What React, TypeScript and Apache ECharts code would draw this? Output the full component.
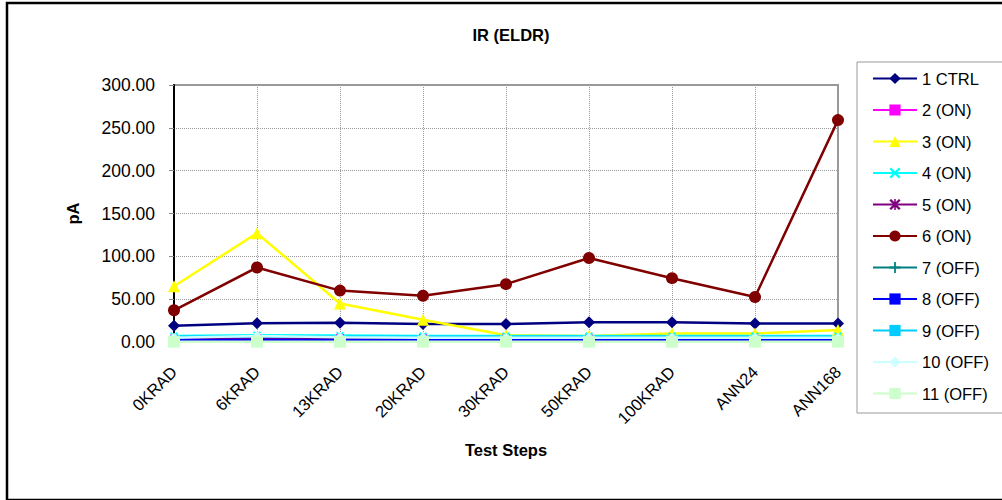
import React, { useEffect, useRef } from "react";
import * as echarts from "echarts";

const categories = ["0KRAD", "6KRAD", "13KRAD", "20KRAD", "30KRAD", "50KRAD", "100KRAD", "ANN24", "ANN168"];
const seriesNames = ["1 CTRL", "2 (ON)", "3 (ON)", "4 (ON)", "5 (ON)", "6 (ON)", "7 (OFF)", "8 (OFF)", "9 (OFF)", "10 (OFF)", "11 (OFF)"];
const s1 = [19, 22, 22.5, 21, 21, 23, 23, 21.5, 21.5];
const s2 = [4, 4.5, 4.5, 4.5, 4, 4, 4, 4, 4.5];
const s3 = [65, 127, 45, 26, 8, 7, 10, 10, 14];
const s4 = [7, 8, 7.5, 7, 7, 7, 7, 7, 7];
const s5 = [3, 3.5, 3.5, 3, 3, 3, 3, 3, 3];
const s6 = [37, 87, 60, 54, 67.5, 98, 74.5, 52.5, 259];
const s7 = [1.2, 1.2, 1.2, 1.2, 1.2, 1.2, 1.2, 1.2, 1.2];
const s8 = [2.2, 2.2, 2.2, 2.2, 2.2, 2.2, 2.2, 2.2, 2.2];
const s9 = [6, 6.5, 6, 6, 6, 6, 6, 6, 6];
const s10 = [5, 7, 5.5, 5, 5, 5, 5, 5, 5];
const s11 = [0.4, 0.4, 0.4, 0.4, 0.4, 0.4, 0.4, 0.4, 0.4];
const yTicks = { min: 0, max: 300, interval: 50 };

const X_PATH = "path://M0,1.5L1.5,0L5,3.5L8.5,0L10,1.5L6.5,5L10,8.5L8.5,10L5,6.5L1.5,10L0,8.5L3.5,5Z";
const STAR_PATH = "path://M0,1.5L1.5,0L5,3.5L8.5,0L10,1.5L6.5,5L10,8.5L8.5,10L5,6.5L1.5,10L0,8.5L3.5,5Z M4.3,0H5.7V10H4.3Z";
const PLUS_PATH = "path://M4.2,0H5.8V4.2H10V5.8H5.8V10H4.2V5.8H0V4.2H4.2Z";
const DASH_PATH = "path://M0,0H8V3H0Z";

const styles = [
  { color: "#000080", symbol: "diamond", size: 12 },
  { color: "#FF00FF", symbol: "rect", size: 8 },
  { color: "#FFFF00", symbol: "triangle", size: 12 },
  { color: "#00FFFF", symbol: X_PATH, size: 8 },
  { color: "#800080", symbol: STAR_PATH, size: 8 },
  { color: "#800000", symbol: "circle", size: 12 },
  { color: "#008080", symbol: PLUS_PATH, size: 9 },
  { color: "#0000FF", symbol: DASH_PATH, size: 8 },
  { color: "#00CCFF", symbol: DASH_PATH, size: 8 },
  { color: "#CCFFFF", symbol: "diamond", size: 10 },
  { color: "#CCFFCC", symbol: "rect", size: 12 },
];

const FONT = "'Liberation Sans', Arial, sans-serif";

export default function App() {
  const ref = useRef<HTMLDivElement>(null);
  useEffect(() => {
    document.body.style.margin = "0";
    const chart = echarts.init(ref.current!, null, { renderer: "svg" });
    const data = [s1, s2, s3, s4, s5, s6, s7, s8, s9, s10, s11];
    chart.setOption({
      animation: false,
      backgroundColor: "#fff",
      textStyle: { fontFamily: FONT },
      title: {
        text: "IR (ELDR)",
        left: 506,
        top: 21,
        textAlign: "center",
        textStyle: { fontFamily: FONT, fontSize: 16.5, fontWeight: "bold", color: "#000" },
      },
      grid: {
        left: 174,
        right: 164,
        top: 85,
        bottom: 158,
        show: true,
        borderColor: "#999",
        borderWidth: 2,
        containLabel: false,
      },
      legend: {
        orient: "vertical",
        left: 872,
        top: 70,
        padding: 0,
        itemWidth: 44,
        itemHeight: 14,
        itemGap: 14.5,
        symbolKeepAspect: true,
        textStyle: { fontFamily: FONT, fontSize: 16.5, color: "#000" },
        data: seriesNames,
      },
      xAxis: {
        type: "category",
        data: categories,
        boundaryGap: false,
        name: "Test Steps",
        nameLocation: "middle",
        nameGap: 99,
        nameTextStyle: { fontFamily: FONT, fontSize: 16.5, fontWeight: "bold", color: "#000" },
        axisLine: { lineStyle: { color: "#888", width: 1.5 } },
        axisTick: { show: false },
        axisLabel: { rotate: 45, margin: 27, fontFamily: FONT, fontSize: 16.5, color: "#000" },
        splitLine: { show: true, lineStyle: { color: "#999", type: "dotted", width: 1 } },
      },
      yAxis: {
        type: "value",
        min: yTicks.min,
        max: yTicks.max,
        interval: yTicks.interval,
        name: "pA",
        nameLocation: "middle",
        nameGap: 93,
        nameTextStyle: { fontFamily: FONT, fontSize: 16.5, fontWeight: "bold", color: "#000" },
        axisLine: { show: true, lineStyle: { color: "#000", width: 2 } },
        axisTick: { show: true, length: 5, lineStyle: { color: "#888" } },
        axisLabel: {
          margin: 19,
          fontFamily: FONT,
          fontSize: 17.5,
          color: "#000",
          formatter: (v: number) => v.toFixed(2),
        },
        splitLine: { show: true, lineStyle: { color: "#999", type: "dotted", width: 1 } },
      },
      graphic: [
        {
          type: "rect",
          shape: { x: 7, y: 3, width: 1000, height: 497 },
          style: { fill: "none", stroke: "#000", lineWidth: 2.5 },
          silent: true,
        },
        {
          type: "rect",
          shape: { x: 857, y: 62, width: 150, height: 351 },
          style: { fill: "none", stroke: "#999", lineWidth: 1 },
          silent: true,
        },
      ],
      series: seriesNames.map((name, i) => ({
        name,
        type: "line",
        data: data[i],
        symbol: styles[i].symbol,
        symbolSize: styles[i].size,
        symbolKeepAspect: true,
        showAllSymbol: true,
        lineStyle: { color: styles[i].color, width: 2.5 },
        itemStyle: { color: styles[i].color, borderWidth: 0 },
        emphasis: { disabled: true },
      })),
    });
    return () => chart.dispose();
  }, []);
  return <div ref={ref} style={{ width: 1002, height: 500 }} />;
}
